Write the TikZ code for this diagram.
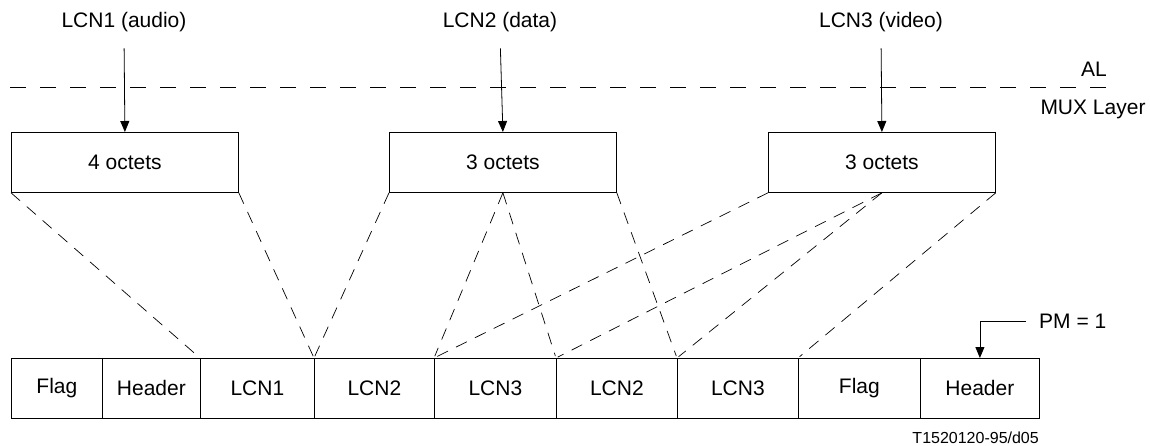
\documentclass[tikz,border=0pt]{standalone}
\usepackage{fontspec}
\setmainfont{Liberation Sans}
\usetikzlibrary{arrows.meta}
\begin{document}
\begin{tikzpicture}[x=1pt,y=-1pt,font=\fontsize{21}{25}\selectfont,
	  octbox/.style={draw,line width=0.8pt,minimum width=227pt,minimum height=60pt,anchor=north west,inner sep=0pt},
	  cell/.style={draw,line width=0.8pt,minimum height=60pt,anchor=north west,inner sep=0pt},
	  feed/.style={-{Triangle[width=9pt,length=11pt]},line width=0.8pt},
	  map/.style={dash pattern=on 12pt off 9pt,line width=0.7pt,shorten >=2pt}]
	  \useasboundingbox (0,0) rectangle (1150,446);

	  % layer boundary
	  \draw[dash pattern=on 16pt off 14pt,line width=0.7pt] (10,87) -- (1117,87);
	  \node (al) at (1094,69) {AL};
	  \node (mux) at (1093,109) {MUX Layer};

	  % logical channels and their octets
	  \node (lcn1) at (124,22) {LCN1 (audio)};
	  \node (lcn2) at (500,22) {LCN2 (data)};
	  \node (lcn3) at (881,22) {LCN3 (video)};
	  \node[octbox] (oct1) at (11,132) {4 octets};
	  \node[octbox] (oct2) at (389,132) {3 octets};
	  \node[octbox] (oct3) at (768,132) {3 octets};
	  \foreach \i in {1,2,3}
	  \draw[feed,shorten <=13pt] (lcn\i.south) -- (oct\i.north);

	  % multiplex packet
	  \foreach \n/\x/\w/\t in {c1/11/91/Flag, c2/102/98/Header, c3/200/114/LCN1,
	    c4/314/120/LCN2, c5/434/122/LCN3, c6/556/121/LCN2, c7/677/121/LCN3,
	    c8/798/122/Flag, c9/920/119/Header}
	  \node[cell,minimum width=\w pt] (\n) at (\x,358) {\t};

	  \draw[map] (oct1.south west) -- (c3.north west);
	  \draw[map] (oct1.south east) -- (c4.north west);
	  \draw[map] (oct2.south west) -- (c4.north west);
	  \draw[map] (oct2.south) -- (c5.north west);
	  \draw[map] (oct2.south) -- (c6.north west);
	  \draw[map] (oct2.south east) -- (c7.north west);
	  \draw[map] (oct3.south west) -- (c5.north west);
	  \draw[map] (oct3.south) -- (c6.north west);
	  \draw[map] (oct3.south) -- (c7.north west);
	  \draw[map] (oct3.south east) -- (c8.north west);

	  \node[anchor=west,inner sep=0pt] (pm) at (1039,321) {PM = 1};
	  \draw[feed,shorten <=13pt] (pm.west) -| (c9.north);

	  \node[anchor=east,inner sep=0pt,font=\fontsize{16}{19}\selectfont] (ref) at (1039,438) {T1520120-95/d05};
	\end{tikzpicture}
\end{document}
